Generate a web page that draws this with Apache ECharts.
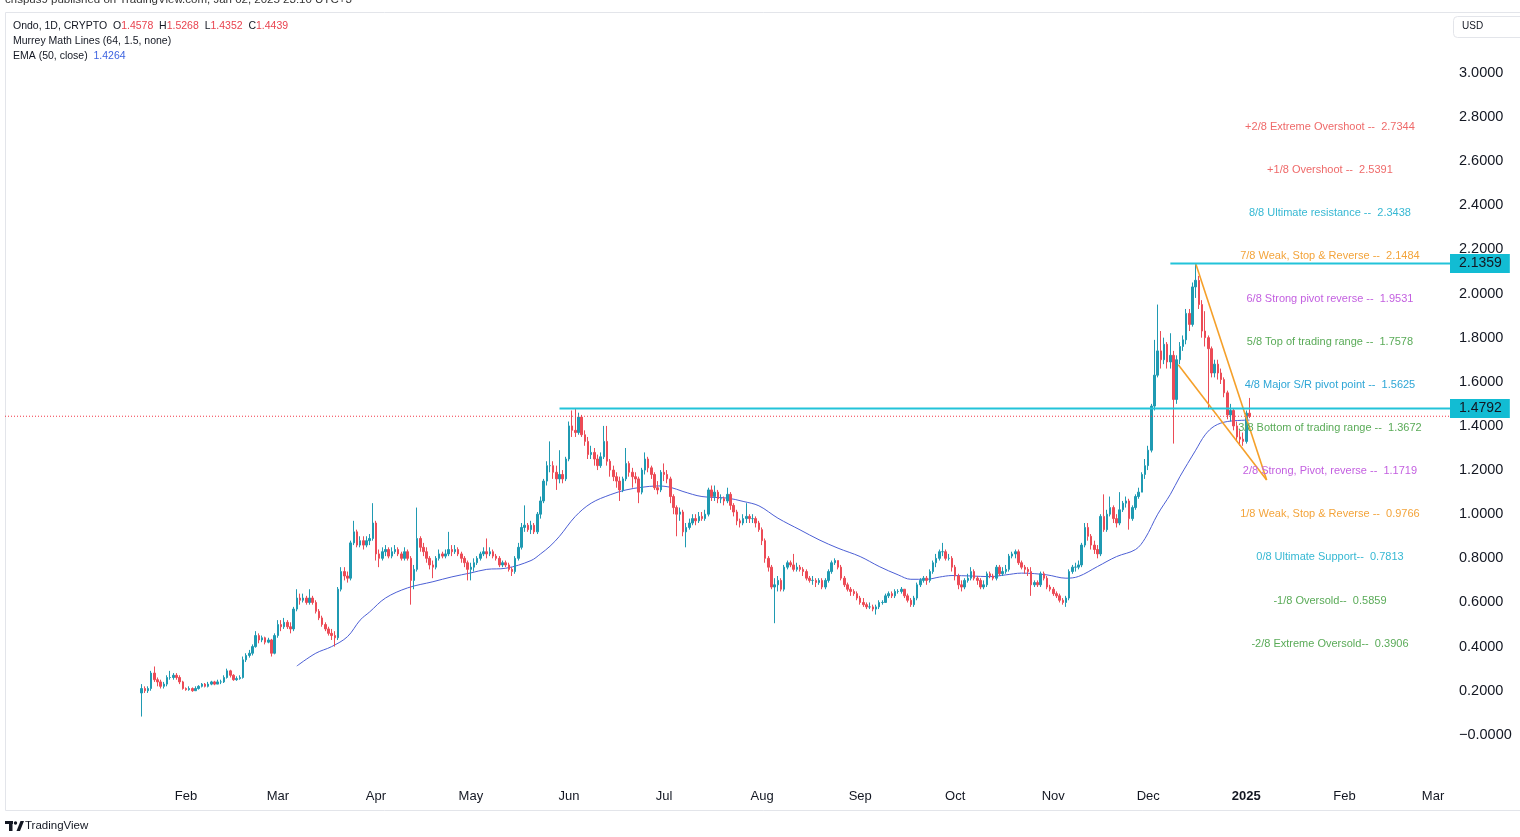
<!DOCTYPE html>
<html><head><meta charset="utf-8">
<script src="https://cdn.jsdelivr.net/npm/echarts@6/dist/echarts.min.js"></script>
<style>html,body{margin:0;padding:0;background:#fff;}#c{width:1520px;height:837px;}</style>
</head><body><div id="c"></div>
<script>
// ---------------- DATA ----------------
const firstDate = '2024-01-18';
const firstOpen = 0.19;
// daily closes (open of each day = previous close)
const closes = [
 /*Jan*/0.21,0.20,0.21,0.28,0.25,0.24,0.22,0.23,0.26,0.26,0.27,0.26,0.24,0.21,
 /*Feb*/0.205,0.21,0.20,0.21,0.22,0.23,0.22,0.23,0.24,0.23,0.24,0.24,0.26,0.29,0.27,0.25,0.255,0.26,0.34,0.36,0.37,0.40,0.45,0.43,0.44,0.42,0.43,0.37,0.45,
 /*Mar*/0.50,0.49,0.51,0.49,0.48,0.57,0.62,0.61,0.62,0.60,0.62,0.60,0.56,0.53,0.50,0.48,0.46,0.45,0.44,0.66,0.74,0.72,0.71,0.87,0.92,0.86,0.88,0.86,0.88,0.89,0.96,
 /*Apr*/0.82,0.80,0.83,0.84,0.81,0.83,0.84,0.82,0.80,0.83,0.80,0.70,0.75,0.89,0.85,0.83,0.80,0.77,0.76,0.80,0.82,0.81,0.82,0.84,0.83,0.84,0.82,0.80,0.78,0.75,
 /*May*/0.76,0.78,0.80,0.82,0.83,0.82,0.83,0.81,0.80,0.77,0.78,0.77,0.75,0.74,0.80,0.85,0.94,0.95,0.93,0.95,0.92,1.00,1.06,1.15,1.22,1.22,1.19,1.16,1.18,1.16,1.25,
 /*Jun*/1.40,1.38,1.37,1.44,1.36,1.33,1.27,1.28,1.25,1.22,1.26,1.33,1.24,1.20,1.17,1.15,1.11,1.16,1.23,1.19,1.17,1.16,1.10,1.20,1.25,1.21,1.18,1.12,1.11,1.19,
 /*Jul*/1.18,1.16,1.08,1.03,1.00,1.01,0.92,0.94,0.96,0.98,0.97,0.99,0.98,1.00,1.11,1.08,1.10,1.07,1.07,1.06,1.09,1.04,1.01,0.97,0.96,0.98,0.99,0.98,0.98,0.96,0.93,
 /*Aug*/0.88,0.80,0.76,0.67,0.68,0.70,0.66,0.76,0.78,0.77,0.75,0.76,0.75,0.74,0.71,0.70,0.70,0.69,0.70,0.67,0.70,0.74,0.78,0.79,0.76,0.71,0.68,0.66,0.65,0.64,0.62,
 /*Sep*/0.60,0.59,0.58,0.58,0.57,0.58,0.60,0.60,0.63,0.64,0.63,0.65,0.65,0.66,0.63,0.61,0.59,0.62,0.68,0.70,0.71,0.70,0.74,0.78,0.80,0.83,0.83,0.80,0.80,0.76,
 /*Oct*/0.72,0.68,0.67,0.70,0.71,0.74,0.71,0.70,0.67,0.68,0.73,0.72,0.71,0.76,0.73,0.74,0.75,0.81,0.82,0.83,0.78,0.76,0.75,0.74,0.68,0.69,0.68,0.73,0.71,0.67,0.66,
 /*Nov*/0.64,0.63,0.61,0.60,0.62,0.74,0.76,0.76,0.77,0.86,0.94,0.90,0.86,0.84,0.82,0.99,0.93,1.00,1.03,0.98,0.96,1.02,1.05,1.06,0.98,1.03,1.08,1.10,1.18,1.22,
 /*Dec*/1.29,1.49,1.63,1.74,1.70,1.77,1.69,1.72,1.52,1.70,1.76,1.79,1.91,1.86,2.03,2.06,1.95,1.83,1.80,1.75,1.64,1.68,1.64,1.61,1.55,1.45,1.47,1.40,1.35,1.34,1.33,
 /*Jan25*/1.4578,1.4439
];
const highs = [
 0.23,0.22,0.22,0.29,0.31,0.26,0.25,0.24,0.27,0.29,0.28,0.28,0.27,0.245,
 0.215,0.22,0.215,0.22,0.225,0.235,0.235,0.24,0.245,0.245,0.25,0.25,0.27,0.30,0.295,0.275,0.265,0.27,0.355,0.37,0.385,0.41,0.47,0.46,0.45,0.445,0.44,0.435,0.46,
 0.52,0.52,0.53,0.52,0.51,0.58,0.66,0.64,0.64,0.63,0.66,0.63,0.61,0.57,0.54,0.51,0.49,0.48,0.47,0.67,0.76,0.76,0.74,0.88,0.97,0.93,0.90,0.90,0.90,0.91,1.05,
 0.97,0.84,0.85,0.86,0.85,0.85,0.86,0.85,0.83,0.85,0.84,0.81,0.77,1.03,0.90,0.87,0.85,0.81,0.79,0.81,0.84,0.83,0.84,0.92,0.86,0.86,0.85,0.83,0.81,0.79,
 0.78,0.80,0.81,0.83,0.85,0.89,0.85,0.84,0.82,0.81,0.79,0.79,0.78,0.76,0.81,0.87,0.96,1.04,0.96,0.97,0.96,1.01,1.08,1.16,1.24,1.33,1.24,1.22,1.29,1.20,1.26,
 1.42,1.47,1.4792,1.46,1.45,1.38,1.35,1.31,1.30,1.27,1.28,1.40,1.40,1.25,1.22,1.19,1.17,1.17,1.30,1.24,1.21,1.19,1.17,1.21,1.28,1.26,1.22,1.19,1.15,1.20,
 1.23,1.20,1.17,1.09,1.04,1.03,1.02,0.96,0.98,1.00,1.00,1.01,1.01,1.02,1.12,1.13,1.13,1.11,1.09,1.08,1.12,1.10,1.05,1.02,0.98,1.00,1.05,1.00,1.00,0.99,0.97,
 0.94,0.89,0.81,0.77,0.71,0.72,0.71,0.77,0.79,0.79,0.82,0.78,0.77,0.76,0.75,0.72,0.72,0.71,0.71,0.71,0.71,0.75,0.79,0.80,0.79,0.77,0.72,0.69,0.67,0.66,0.65,
 0.63,0.62,0.60,0.60,0.59,0.59,0.61,0.61,0.64,0.65,0.65,0.66,0.66,0.67,0.66,0.64,0.62,0.63,0.69,0.71,0.72,0.72,0.75,0.79,0.82,0.84,0.87,0.84,0.82,0.81,
 0.77,0.73,0.70,0.71,0.73,0.76,0.75,0.72,0.71,0.70,0.74,0.74,0.73,0.77,0.77,0.76,0.77,0.82,0.83,0.84,0.84,0.79,0.77,0.76,0.76,0.70,0.70,0.74,0.74,0.72,0.68,
 0.67,0.65,0.64,0.62,0.63,0.75,0.77,0.78,0.79,0.87,0.96,0.96,0.91,0.88,0.86,1.00,1.09,1.02,1.08,1.04,1.00,1.10,1.06,1.08,1.07,1.04,1.09,1.12,1.19,1.25,
 1.31,1.50,1.79,1.95,1.83,1.80,1.78,1.82,1.74,1.72,1.78,1.81,1.93,1.93,2.05,2.1359,2.08,1.97,1.92,1.81,1.76,1.70,1.70,1.66,1.62,1.56,1.50,1.48,1.42,1.38,1.37,
 1.47,1.5268
];
const lows = [
 0.083,0.19,0.19,0.20,0.24,0.22,0.21,0.21,0.22,0.25,0.25,0.25,0.23,0.205,
 0.20,0.20,0.195,0.20,0.205,0.215,0.215,0.215,0.225,0.225,0.23,0.23,0.235,0.255,0.26,0.245,0.245,0.25,0.255,0.33,0.35,0.36,0.395,0.415,0.42,0.41,0.415,0.355,0.365,
 0.44,0.47,0.48,0.48,0.46,0.47,0.56,0.59,0.60,0.59,0.59,0.59,0.55,0.52,0.49,0.47,0.45,0.43,0.40,0.43,0.65,0.70,0.69,0.70,0.86,0.85,0.85,0.84,0.85,0.86,0.88,
 0.79,0.76,0.79,0.81,0.80,0.80,0.82,0.81,0.79,0.79,0.79,0.59,0.66,0.74,0.83,0.81,0.78,0.75,0.71,0.75,0.79,0.80,0.80,0.81,0.81,0.82,0.81,0.78,0.76,0.70,
 0.70,0.74,0.77,0.79,0.81,0.80,0.81,0.80,0.79,0.76,0.76,0.76,0.74,0.72,0.73,0.79,0.84,0.92,0.92,0.91,0.91,0.91,0.98,1.05,1.13,1.19,1.16,1.11,1.14,1.14,1.15,
 1.24,1.35,1.35,1.36,1.35,1.31,1.25,1.25,1.22,1.20,1.21,1.25,1.22,1.17,1.15,1.12,1.06,1.10,1.15,1.17,1.12,1.14,1.05,1.09,1.18,1.19,1.16,1.11,1.09,1.10,
 1.15,1.14,1.05,1.00,0.90,0.97,0.90,0.85,0.93,0.95,0.95,0.96,0.97,0.97,0.99,1.06,1.06,1.05,1.05,1.04,1.05,1.02,0.99,0.95,0.94,0.95,0.96,0.96,0.96,0.94,0.92,
 0.86,0.78,0.74,0.66,0.506,0.65,0.65,0.65,0.75,0.76,0.74,0.74,0.74,0.72,0.70,0.69,0.68,0.67,0.68,0.66,0.66,0.69,0.73,0.77,0.75,0.70,0.67,0.65,0.63,0.63,0.61,
 0.59,0.58,0.57,0.57,0.56,0.545,0.57,0.59,0.60,0.62,0.62,0.62,0.64,0.64,0.62,0.60,0.58,0.58,0.61,0.67,0.69,0.68,0.69,0.73,0.76,0.79,0.81,0.79,0.79,0.74,
 0.70,0.66,0.65,0.66,0.69,0.70,0.70,0.68,0.66,0.66,0.67,0.71,0.70,0.70,0.72,0.72,0.73,0.74,0.80,0.80,0.77,0.75,0.73,0.72,0.63,0.67,0.67,0.67,0.70,0.66,0.65,
 0.63,0.62,0.60,0.59,0.58,0.61,0.73,0.74,0.75,0.76,0.85,0.88,0.84,0.82,0.80,0.81,0.92,0.92,0.99,0.96,0.94,0.95,1.01,1.03,0.93,0.97,1.02,1.07,1.10,1.16,
 1.20,1.28,1.47,1.62,1.66,1.68,1.66,1.66,1.32,1.50,1.68,1.74,1.77,1.83,1.85,1.98,1.93,1.80,1.76,1.48,1.62,1.62,1.61,1.59,1.53,1.43,1.42,1.38,1.33,1.31,1.31,
 1.32,1.4352
];
// EMA(50, close)
const emaDates = ['2024-03-07','2024-03-13','2024-03-18','2024-03-23','2024-03-27','2024-03-30','2024-04-04','2024-04-11','2024-04-19','2024-04-25',
 '2024-05-01','2024-05-06','2024-05-12','2024-05-20','2024-05-23','2024-05-26','2024-05-29','2024-06-03','2024-06-08','2024-06-14','2024-06-19',
 '2024-06-24','2024-06-29','2024-07-03','2024-07-07','2024-07-13','2024-07-21','2024-07-26','2024-07-31','2024-08-06','2024-08-13','2024-08-19',
 '2024-08-25','2024-09-01','2024-09-07','2024-09-13','2024-09-17','2024-09-22','2024-09-26','2024-09-30','2024-10-06','2024-10-12','2024-10-17',
 '2024-10-22','2024-10-30','2024-11-05','2024-11-09','2024-11-15','2024-11-21','2024-11-27','2024-11-30','2024-12-04','2024-12-08','2024-12-11',
 '2024-12-16','2024-12-19','2024-12-22','2024-12-26','2025-01-02'];
const emaValues = [0.312,0.37,0.40,0.445,0.52,0.557,0.62,0.666,0.694,0.716,
 0.734,0.75,0.755,0.79,0.82,0.855,0.90,0.99,1.05,1.088,1.11,
 1.122,1.128,1.122,1.103,1.08,1.073,1.058,1.038,0.982,0.929,0.884,
 0.846,0.808,0.763,0.725,0.705,0.705,0.715,0.722,0.72,0.717,0.725,
 0.733,0.725,0.710,0.718,0.763,0.808,0.84,0.89,1.00,1.09,1.17,
 1.29,1.36,1.40,1.42,1.4264];
// time axis labels
const monthTickDates = ['2024-02-01','2024-03-01','2024-04-01','2024-05-01','2024-06-01','2024-07-01','2024-08-01','2024-09-01','2024-10-01','2024-11-01','2024-12-01','2025-01-01','2025-02-01','2025-03-01'];
const monthTickLabels = ['Feb','Mar','Apr','May','Jun','Jul','Aug','Sep','Oct','Nov','Dec','2025','Feb','Mar'];
// Murrey Math levels
const murreyNames = ['+2/8 Extreme Overshoot --  ','+1/8 Overshoot --  ','8/8 Ultimate resistance --  ','7/8 Weak, Stop & Reverse --  ','6/8 Strong pivot reverse --  ','5/8 Top of trading range --  ','4/8 Major S/R pivot point --  ','3/8 Bottom of trading range --  ','2/8 Strong, Pivot, reverse --  ','1/8 Weak, Stop & Reverse --  ','0/8 Ultimate Support--  ','-1/8 Oversold--  ','-2/8 Extreme Oversold--  '];
const murreyLevels = [2.7344,2.5391,2.3438,2.1484,1.9531,1.7578,1.5625,1.3672,1.1719,0.9766,0.7813,0.5859,0.3906];
const murreyLabelDate = '2025-01-27T10:00:00Z';
// drawings
const resistanceLevels = [2.1359, 1.4792];
const resistanceStarts = ['2024-12-08', '2024-05-29'];
const lastPrice = 1.4439;
const wedgeUpper = [['2024-12-16T00:00:00Z', 2.1359], ['2025-01-07T10:00:00Z', 1.155]];
const wedgeLower = [['2024-12-10T12:00:00Z', 1.677], ['2025-01-07T10:00:00Z', 1.155]];

// ---------------- STYLE ----------------
const murreyColors = ['#ef6a6a','#ef6a6a','#36b8d3','#f3a43b','#c35fe0','#5aab58','#2ea6d6','#5aab58','#c35fe0','#f3a43b','#36b8d3','#5aab58','#5aab58'];
const UP = '#1f9ab2', DOWN = '#ec4b56';
const FONT = '"Liberation Sans", Arial, sans-serif';
const X_MIN = -26.2, X_MAX = 430.35;

// ---------------- BUILD ----------------
const ORIGIN = Date.UTC(2024, 0, 1), DAY_MS = 86400000;
const toDay = s => (Date.parse(s.length === 10 ? s + 'T00:00:00Z' : s) - ORIGIN) / DAY_MS;
const d0 = toDay(firstDate);
const candles = closes.map((c, i) => [d0 + i, i === 0 ? firstOpen : closes[i - 1], c, lows[i], highs[i]]);
const last = candles[candles.length - 1];
const ema = emaDates.map((d, i) => [toDay(d), emaValues[i]]);
const tickDays = monthTickDates.map(toDay);
const labelDay = toDay(murreyLabelDate);

const chart = echarts.init(document.getElementById('c'), null, {renderer: 'canvas'});
const series = [
  {type: 'line', name: 'ema', data: ema, smooth: 0.35, showSymbol: false, symbol: 'none',
   lineStyle: {color: '#4c5fd5', width: 1}, z: 2, silent: true},
  {type: 'candlestick', name: 'ONDO', data: candles, encode: {x: 0, y: [1, 2, 3, 4]}, barWidth: 2,
   itemStyle: {color: UP, color0: DOWN, borderColor: UP, borderColor0: DOWN, borderWidth: 1}, z: 3, silent: true},
  {type: 'line', name: 'lastPrice', data: [[X_MIN, lastPrice], [X_MAX, lastPrice]], showSymbol: false, symbol: 'none',
   lineStyle: {color: '#f23645', width: 1, type: [1, 2]}, z: 4, silent: true},
  {type: 'line', name: 'wedgeU', data: wedgeUpper.map(p => [toDay(p[0]), p[1]]), showSymbol: false, symbol: 'none',
   lineStyle: {color: '#f5a02a', width: 1.6}, z: 5, silent: true},
  {type: 'line', name: 'wedgeL', data: wedgeLower.map(p => [toDay(p[0]), p[1]]), showSymbol: false, symbol: 'none',
   lineStyle: {color: '#f5a02a', width: 1.6}, z: 5, silent: true},
  {type: 'custom', name: 'murrey', data: murreyLevels.map((v, i) => [labelDay, v, i]), z: 6, silent: true, clip: false,
   renderItem: (params, api) => {
     const i = api.value(2);
     const p = api.coord([api.value(0), api.value(1)]);
     return {type: 'text', x: p[0], y: p[1] + 0.5,
       style: {text: murreyNames[i] + murreyLevels[i].toFixed(4), fill: murreyColors[i], font: '11px ' + FONT, align: 'center', verticalAlign: 'bottom'}};
   }}
];
resistanceLevels.forEach((lvl, i) => {
  series.push({type: 'line', name: 'res' + i, data: [[toDay(resistanceStarts[i]), lvl], [X_MAX, lvl]], showSymbol: false, symbol: 'none',
    lineStyle: {color: '#22c3d9', width: 2}, z: 7, silent: true,
    endLabel: {show: true, formatter: () => lvl.toFixed(4), backgroundColor: '#12bcd3', color: '#131722',
      fontSize: 14, fontFamily: FONT, padding: [3, 8, 2, 9], distance: 0}});
});

const hdr = `{k|Ondo, 1D, CRYPTO  O}{r|${last[1].toFixed(4)}}{k|  H}{r|${last[4].toFixed(4)}}{k|  L}{r|${last[3].toFixed(4)}}{k|  C}{r|${last[2].toFixed(4)}}`;

chart.setOption({
  animation: false,
  backgroundColor: '#ffffff',
  grid: {left: 5, right: 70, top: 12, bottom: 58, containLabel: false},
  xAxis: {type: 'value', min: X_MIN, max: X_MAX, splitLine: {show: false}, axisLine: {show: false}, axisTick: {show: false},
    axisLabel: {customValues: tickDays, margin: 11, fontSize: 13, fontFamily: FONT, color: '#131722',
      formatter: v => { const i = tickDays.findIndex(t => Math.abs(t - v) < 0.01); const s = i >= 0 ? monthTickLabels[i] : ''; return s === '2025' ? '{b|2025}' : s; },
      rich: {b: {fontWeight: 'bold', fontSize: 13, fontFamily: FONT, color: '#131722'}}}},
  yAxis: {type: 'value', position: 'right', min: -0.2, max: 3.2758, interval: 0.2, splitLine: {show: false}, axisLine: {show: false}, axisTick: {show: false},
    axisLabel: {margin: 9, fontSize: 14.5, fontFamily: FONT, color: '#131722',
      formatter: v => (v < -0.1 || v > 3.1) ? '' : (Math.abs(v) < 1e-9 ? '\u22120.0000' : v.toFixed(4))}},
  series: series,
  graphic: [
    {type: 'rect', shape: {x: 5.5, y: 12.5, width: 1530, height: 798}, style: {fill: 'none', stroke: '#e3e5ea', lineWidth: 1}, silent: true, z: -1},
    {type: 'text', left: 5, top: -6, style: {text: 'crispus9 published on TradingView.com, Jan 02, 2025 23:10 UTC+3', font: '11.5px ' + FONT, fill: '#333'}},
    {type: 'text', left: 13, top: 21, style: {text: hdr, font: '10.5px ' + FONT, fill: '#131722',
      rich: {k: {fontSize: 10.5, fontFamily: FONT, fill: '#131722'}, r: {fontSize: 10.5, fontFamily: FONT, fill: '#e9434f'}}}},
    {type: 'text', left: 13, top: 36, style: {text: 'Murrey Math Lines (64, 1.5, none)', font: '10.5px ' + FONT, fill: '#131722'}},
    {type: 'text', left: 13, top: 51, style: {text: `{k|EMA (50, close)  }{b|${emaValues[emaValues.length - 1].toFixed(4)}}`, font: '10.5px ' + FONT,
      rich: {k: {fontSize: 10.5, fontFamily: FONT, fill: '#131722'}, b: {fontSize: 10.5, fontFamily: FONT, fill: '#3d63e0'}}}},
    {type: 'rect', shape: {x: 1453.5, y: 16.5, width: 80, height: 21, r: 4}, style: {fill: '#fff', stroke: '#e3e5ea', lineWidth: 1}},
    {type: 'text', left: 1462, top: 21, style: {text: 'USD', font: '10px ' + FONT, fill: '#131722'}},
    {type: 'rect', shape: {x: 5, y: 821, width: 8, height: 3}, style: {fill: '#131722'}},
    {type: 'rect', shape: {x: 9, y: 821, width: 3.5, height: 10}, style: {fill: '#131722'}},
    {type: 'circle', shape: {cx: 15.5, cy: 823, r: 1.7}, style: {fill: '#131722'}},
    {type: 'polygon', shape: {points: [[16.5, 831], [20.5, 821], [24, 821], [20, 831]]}, style: {fill: '#131722'}},
    {type: 'text', left: 25, top: 820, style: {text: 'TradingView', font: '11.5px ' + FONT, fill: '#131722'}}
  ]
});
</script></body></html>
